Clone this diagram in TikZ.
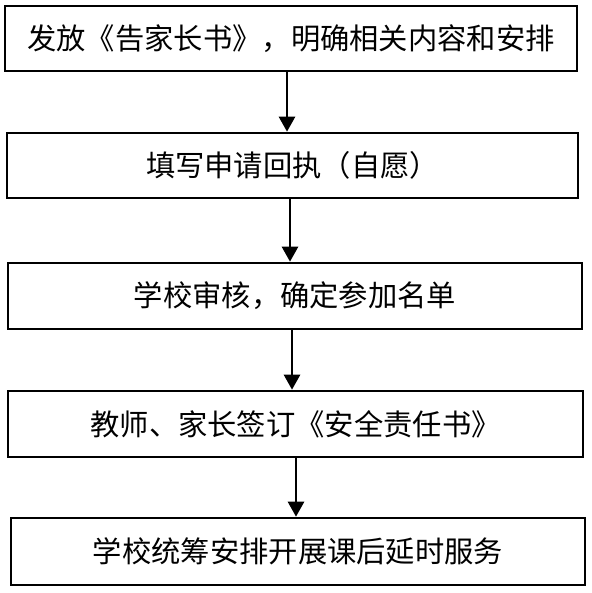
\documentclass[tikz,border=0pt]{standalone}
\usepackage{fontspec}
\newfontfamily\cjk{Noto Sans CJK SC}
\usetikzlibrary{arrows.meta,positioning}

\begin{document}
\begin{tikzpicture}[
  x=1pt, y=-1pt,
  font=\cjk\fontsize{29.3}{32}\selectfont,
  stepbox/.style={draw, line width=2.6pt, minimum height=65pt, inner sep=0pt,
                  align=center},
  arr/.style={line width=2.6pt, -{Triangle[length=15pt,width=16pt]}}
]
\useasboundingbox (0,0) rectangle (591,593);
% steps, top to bottom
\node[stepbox, minimum width=572pt] (s1) at (291,38.5)
  {发放《告家长书》，明确相关内容和安排};
\node[stepbox, minimum width=571pt] (s2) at (292.5,165.5)
  {填写申请回执（自愿）};
\node[stepbox, minimum width=574pt, minimum height=66pt] (s3) at (295,296)
  {学校审核，确定参加名单};
\node[stepbox, minimum width=575pt, minimum height=66pt] (s4) at (295.5,424)
  {教师、家长签订《安全责任书》};
\node[stepbox, minimum width=574pt, minimum height=67pt] (s5) at (298,551.5)
  {学校统筹安排开展课后延时服务};

\draw[arr] (s1.south -| 287,0) -- (s2.north -| 287,0);
\draw[arr] (s2.south -| 290,0) -- (s3.north -| 290,0);
\draw[arr] (s3.south -| 292,0) -- (s4.north -| 292,0);
\draw[arr] (s4.south -| 296,0) -- (s5.north -| 296,0);
\end{tikzpicture}
\end{document}
